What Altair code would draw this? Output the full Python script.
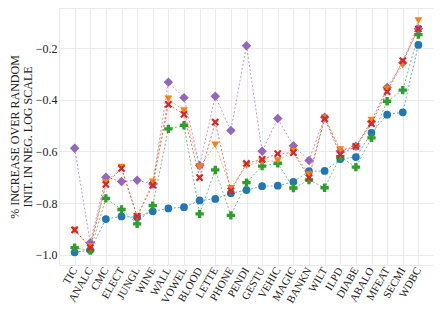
import altair as alt
import pandas as pd

datasets = ["TIC", "ANALC", "CMC", "ELECT", "JUNGL", "WINE", "WALL", "VOWEL",
            "BLOOD", "LETTE", "PHONE", "PENDI", "GESTU", "VEHIC", "MAGIC",
            "BANKN", "WILT", "ILPD", "DIABE", "ABALO", "MFEAT", "SECMI", "WDBC"]

blue_vals = [-0.991, -0.982, -0.862, -0.852, -0.855, -0.832, -0.821, -0.816,
             -0.790, -0.784, -0.762, -0.750, -0.735, -0.733, -0.718,
             -0.677, -0.676, -0.630, -0.622, -0.528, -0.458, -0.449, -0.188]
green_vals = [-0.973, -0.984, -0.782, -0.825, -0.881, -0.810, -0.513, -0.499,
              -0.842, -0.672, -0.848, -0.721, -0.657, -0.646, -0.742,
              -0.711, -0.741, -0.621, -0.661, -0.548, -0.406, -0.363, -0.148]
purple_vals = [-0.588, -0.954, -0.700, -0.717, -0.712, -0.726, -0.332, -0.392,
               -0.655, -0.387, -0.519, -0.191, -0.600, -0.473, -0.578,
               -0.635, -0.468, -0.599, -0.580, -0.484, -0.353, -0.257, -0.125]
orange_vals = [-0.905, -0.968, -0.721, -0.661, -0.852, -0.718, -0.397, -0.442,
               -0.660, -0.575, -0.743, -0.655, -0.640, -0.636, -0.600,
               -0.690, -0.470, -0.593, -0.583, -0.479, -0.360, -0.266, -0.094]
red_vals = [-0.904, -0.973, -0.728, -0.666, -0.852, -0.731, -0.418, -0.457,
            -0.702, -0.487, -0.753, -0.647, -0.631, -0.609, -0.605,
            -0.702, -0.474, -0.612, -0.581, -0.493, -0.369, -0.249, -0.126]

x_shape = ("M-0.6,-1L0,-0.4L0.6,-1L1,-0.6L0.4,0L1,0.6L0.6,1L0,0.4"
           "L-0.6,1L-1,0.6L-0.4,0L-1,-0.6Z")

series = [
    ("Series 1", blue_vals, "#1f77b4", "circle", 60),
    ("Series 2", green_vals, "#2ca02c", "cross", 70),
    ("Series 5", purple_vals, "#9467bd", "diamond", 90),
    ("Series 4", orange_vals, "#ff7f0e", "triangle-down", 60),
    ("Series 3", red_vals, "#d62728", x_shape, 60),
]

rows = []
for name, vals, _, _, _ in series:
    for d, v in zip(datasets, vals):
        rows.append({"dataset": d, "value": v, "series": name})
df = pd.DataFrame(rows)

xenc = alt.X("dataset:N", sort=datasets,
             scale=alt.Scale(type="point", padding=1.35),
             axis=alt.Axis(title=None, labelAngle=300, grid=True, ticks=False,
                           domain=False, labelFontSize=11, labelPadding=3))
yenc = alt.Y("value:Q",
             scale=alt.Scale(domain=[-1.04, -0.045], nice=False, zero=False),
             axis=alt.Axis(values=[-1.0, -0.8, -0.6, -0.4, -0.2], format=".1f",
                           title=["% INCREASE OVER RANDOM", "INIT. IN NEG. LOG SCALE"],
                           titleFontSize=12, labelFontSize=12, ticks=False,
                           domain=False, grid=True, titlePadding=1,
                           titleLineHeight=13, labelPadding=2))

layers = []
for name, vals, color, shape, size in series:
    base = alt.Chart(df).transform_filter(alt.datum.series == name)
    line = base.mark_line(color=color, strokeDash=[2, 2], strokeWidth=1,
                          opacity=0.65).encode(x=xenc, y=yenc)
    pts = base.mark_point(shape=shape, filled=True, color=color, size=size,
                          opacity=1).encode(x=xenc, y=yenc)
    layers += [line, pts]

chart = alt.layer(*layers).properties(
    width=426, height=297,
    autosize=alt.AutoSizeParams(type="fit", contains="padding"),
    padding={"left": 0, "top": 0, "right": 0, "bottom": 0},
).configure_axis(
    labelFont="Liberation Serif", titleFont="Liberation Serif",
    gridColor="#ebebeb", labelColor="#222222", titleColor="#222222",
    titleFontWeight="normal",
).configure_view(stroke="#ebebeb")

chart.save("out.html", embed_options={"renderer": "svg", "actions": False})
